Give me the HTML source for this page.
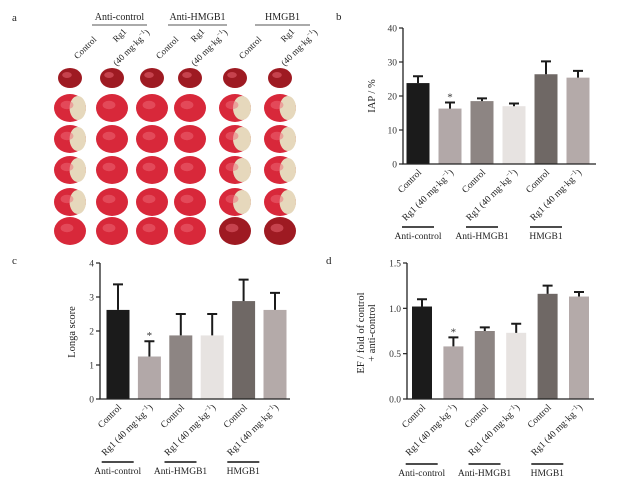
<!DOCTYPE html>
<html><head><meta charset="utf-8">
<style>
html,body{margin:0;padding:0;background:#fff;}
svg{display:block;font-family:"Liberation Serif",serif;}
</style></head>
<body>
<svg id="fig" width="629" height="482" viewBox="0 0 629 482" xmlns="http://www.w3.org/2000/svg">
<rect width="629" height="482" fill="#fff"/>
<g id="panelA"></g>
<g id="panelB"></g>
<g id="panelC"></g>
<g id="panelD"></g>
</svg>
<script>
const NS = "http://www.w3.org/2000/svg";
const categories = ["Control","Rg1","Control","Rg1","Control","Rg1"];
const groupLabels = ["Anti-control","Anti-HMGB1","HMGB1"];
const iapValues = [23.8,16.3,18.5,17.0,26.4,25.4];
const iapErrors = [2.0,1.8,0.8,0.8,3.8,2.0];
const iapTicks = [0,10,20,30,40];
const longaValues = [2.62,1.25,1.87,1.87,2.88,2.62];
const longaErrors = [0.75,0.45,0.63,0.63,0.63,0.5];
const longaTicks = [0,1,2,3,4];
const efValues = [1.02,0.58,0.75,0.73,1.16,1.13];
const efErrors = [0.08,0.1,0.04,0.1,0.09,0.05];
const efTicks = ["0.0","0.5","1.0","1.5"];
const sigMarks = [1];

const colors = ["#1b1b1b","#b2a8a8","#8d8583","#e7e3e1","#6f6865","#b4aaa9"];

function mk(tag, attrs, parent){
  const e = document.createElementNS(NS, tag);
  for (const k in attrs) e.setAttribute(k, attrs[k]);
  if (parent) parent.appendChild(e);
  return e;
}

function catLabel(parent, x, y, isRg){
  const t = mk("text",{x:0,y:0,"text-anchor":"end","font-size":"9.5",fill:"#222",transform:`translate(${x},${y}) rotate(-45)`},parent);
  
  
  if(!isRg){ t.textContent = "Control"; return; }
  t.appendChild(document.createTextNode("Rg1 (40 mg·kg"));
  const s = mk("tspan",{"font-size":"6.5",dy:"-4"},t);
  s.textContent = "−1";
  const s2 = mk("tspan",{dy:"4"},t);
  s2.textContent = ")";
}

function chart(g, cfg){
  const {axisX, y0, yTop, vMax, x1, step, bw, values, errors, ticks, tickVals, xEnd, title, titleX, titleY, letter, letterX, letterY, lineY} = cfg;
  const yS = v => y0 - (v/vMax)*(y0-yTop);
  const xS = i => x1 + i*step;
  const L = mk("text",{x:letterX,y:letterY,"font-size":"11",fill:"#222"},g);
  
  
  L.textContent = letter;
  values.forEach((v,i)=>{
    const cx = xS(i);
    const b = mk("rect",{x:cx-bw/2,y:yS(v),width:bw,height:y0-yS(v),fill:colors[i]},g);
    
    
    const ey = yS(v+errors[i]);
    const e = mk("path",{d:`M${cx} ${yS(v)} V${ey} M${cx-5} ${ey} H${cx+5}`,stroke:"#1b1b1b","stroke-width":"2",fill:"none"},g);
    
    
    if (sigMarks.includes(i)){
      const s = mk("text",{x:cx,y:ey-2,"text-anchor":"middle","font-size":"11",fill:"#333"},g);
      
      
      s.textContent = "*";
    }
    catLabel(g, cx+4, y0+9, i%2===1);
  });
  const ax = mk("path",{d:`M${axisX} ${yTop} V${y0} H${xEnd}`,stroke:"#222","stroke-width":"1.3",fill:"none"},g);
  
  
  tickVals.forEach((tv,k)=>{
    const y = yS(tv);
    const t = mk("line",{x1:axisX-4,x2:axisX,y1:y,y2:y,stroke:"#222","stroke-width":"1.2"},g);
    
    
    const tl = mk("text",{x:axisX-6,y:y+3.5,"text-anchor":"end","font-size":"9.5",fill:"#333"},g);
    
    
    tl.textContent = ticks[k];
  });
  const tt = mk("text",{"text-anchor":"middle","font-size":"10.5",fill:"#222",transform:`translate(${titleX},${titleY}) rotate(-90)`},g);
  
  
  if (Array.isArray(title)){
    title.forEach((ln,k)=>{ const s = mk("tspan",{x:0,dy:k?"11":"0"},tt); s.textContent = ln; });
  } else tt.textContent = title;
  groupLabels.forEach((gl,k)=>{
    const cx = (xS(2*k)+xS(2*k+1))/2 - 16;
    const l = mk("line",{x1:cx-16,x2:cx+16,y1:lineY,y2:lineY,stroke:"#111","stroke-width":"1.5"},g);
    
    
    const t = mk("text",{x:cx,y:lineY+12,"text-anchor":"middle","font-size":"9.5",fill:"#222"},g);
    
    
    t.textContent = gl;
  });
}

chart(document.getElementById("panelB"),{axisX:403,y0:164,yTop:28,vMax:40,x1:418,step:32,bw:23,values:iapValues,errors:iapErrors,ticks:iapTicks,tickVals:iapTicks,xEnd:596,title:"IAP / %",titleX:375,titleY:96,letter:"b",letterX:336,letterY:20,lineY:227});
chart(document.getElementById("panelC"),{axisX:100,y0:399,yTop:263,vMax:4,x1:118,step:31.4,bw:23,values:longaValues,errors:longaErrors,ticks:longaTicks,tickVals:longaTicks,xEnd:290,title:"Longa score",titleX:75,titleY:332,letter:"c",letterX:12,letterY:264,lineY:462});
chart(document.getElementById("panelD"),{axisX:407,y0:399,yTop:263,vMax:1.5,x1:422,step:31.4,bw:20,values:efValues,errors:efErrors,ticks:efTicks,tickVals:[0,0.5,1.0,1.5],xEnd:594,title:["EF / fold of control","+ anti-control"],titleX:364,titleY:333,letter:"d",letterX:326,letterY:264,lineY:464});

(function(){
  const g = document.getElementById("panelA");
  const a = mk("text",{x:12,y:21,"font-size":"11",fill:"#222"},g);
  
  
  a.textContent = "a";
  const heads = [["Anti-control",92,147],["Anti-HMGB1",168,227],["HMGB1",255,310]];
  heads.forEach(h=>{
    const t = mk("text",{x:(h[1]+h[2])/2,y:20,"text-anchor":"middle","font-size":"10",fill:"#222"},g);
    
    
    t.textContent = h[0];
    const l = mk("line",{x1:h[1],x2:h[2],y1:25,y2:25,stroke:"#555","stroke-width":"1"},g);
    
    
  });
  const colX = [70,112,152,190,235,280];
  const rowY = [78,108,139,170,202,231];
  colX.forEach((cx,i)=>{
    const isRg = i%2===1;
    if(!isRg){
      const t = mk("text",{"text-anchor":"end","font-size":"9",fill:"#222",transform:`translate(${cx+27},${40}) rotate(-45)`},g);
      
      
      t.textContent="Control";
    } else {
      const t1 = mk("text",{"text-anchor":"end","font-size":"9",fill:"#222",transform:`translate(${cx+15},${32}) rotate(-45)`},g);
      
      
      t1.textContent="Rg1";
      const t2 = mk("text",{"text-anchor":"end","font-size":"9",fill:"#222",transform:`translate(${cx+38},${33}) rotate(-45)`},g);
      
      
      t2.appendChild(document.createTextNode("(40 mg·kg"));
      const s3 = mk("tspan",{"font-size":"6",dy:-4},t2); s3.textContent="−1";
      const s4 = mk("tspan",{dy:4},t2); s4.textContent=")";
    }
  });
  const paleAmt = [0.45,0.1,0.05,0.05,0.5,0.45];
  colX.forEach((cx,i)=>{
    rowY.forEach((cy,r)=>{
      const rx = r===0?12:16, ry = r===0?10:14;
      const sg = mk("g",{},g);
      
      
      const dark = (i>=4 && (r===0||r===5)) || r===0;
      mk("ellipse",{cx:cx,cy:cy,rx:rx,ry:ry,fill:dark?"#9e1a22":"#d8283a"},sg);
      if(paleAmt[i]>0.2 && r>0 && r<5){
        const w = rx*2*paleAmt[i];
        mk("ellipse",{cx:cx+rx-w/2-1,cy:cy,rx:w/2+1,ry:ry-2,fill:"#e6d8bc"},sg);
      }
      mk("ellipse",{cx:cx-3,cy:cy-3,rx:rx*0.4,ry:ry*0.3,fill:"#ee6a78",opacity:"0.5"},sg);
    });
  });
})();
</script>
</body></html>
